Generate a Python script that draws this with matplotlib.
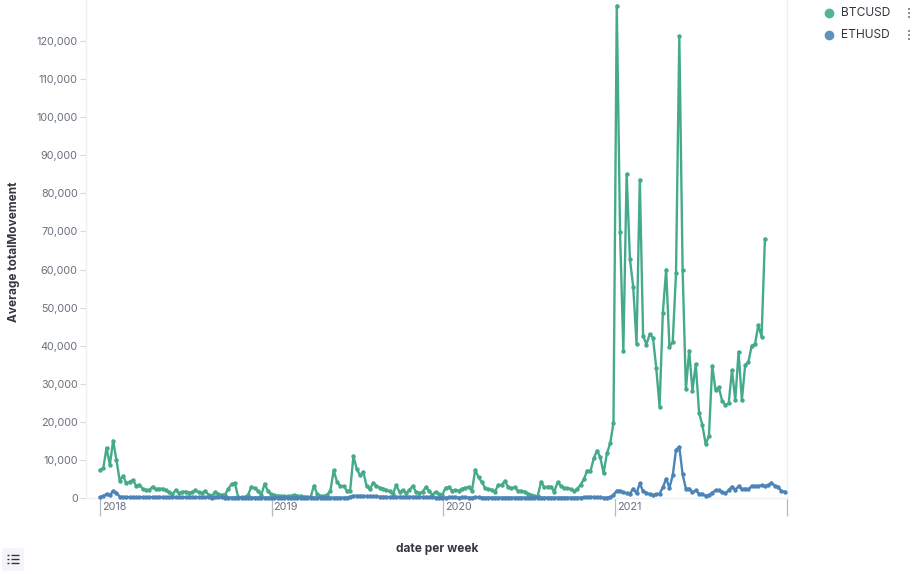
#!/usr/bin/env python

import matplotlib
matplotlib.use('Agg')
import matplotlib.pyplot as plt
import matplotlib.dates as mdates
from matplotlib.patches import FancyBboxPatch
from matplotlib.transforms import ScaledTranslation
import pandas as pd

START = '2018-01-01'

btc = [7350, 7800, 13200, 8660, 15050, 10000, 4550, 5800, 3850, 4300,
       4700, 3200, 3400, 2450, 2100, 2100, 3000, 2300, 2450, 2450,
       2100, 1500, 960, 2100, 1200, 1600, 1700, 1400, 1500, 2000,
       1500, 1300, 1900, 800, 600, 1600, 960, 800, 900, 2400,
       3700, 3850, 200, 200, 200, 800, 3000, 2500, 1900, 800,
       3700, 1900, 960, 700, 600, 500, 500, 450, 450, 800,
       600, 500, 350, 300, 280, 3240, 1050, 500, 500, 850,
       1900, 7260, 4300, 3150, 3150, 1900, 1900, 11025, 7600, 6000,
       6900, 3150, 2275, 4000, 3200, 2700, 2450, 2100, 1750, 1050,
       3400, 1500, 2100, 1200, 2100, 3150, 1600, 1200, 1660, 2800,
       1840, 875, 1600, 960, 800, 2700, 2800, 1900, 2100, 1900,
       2450, 2700, 2900, 1840, 7440, 5400, 4200, 2600, 2360, 2190,
       1660, 3400, 3400, 4460, 2900, 2540, 2800, 1840, 1900, 1660,
       1140, 800, 525, 525, 4290, 2800, 2975, 2975, 1575, 4100,
       3240, 2700, 2540, 2360, 1840, 2450, 3500, 4900, 7175, 7000,
       10400, 12425, 10675, 6475, 11725, 14350, 19775, 129300, 69800, 38700,
       85100, 62700, 55440, 40500, 83600, 42600, 40300, 43050, 42100, 34100,
       24000, 48650, 60000, 39700, 41000, 59150, 121300, 60000, 28500, 38700,
       28200, 35200, 22400, 19160, 14175, 16275, 34740, 28350, 29050, 25550,
       24400, 24850, 33600, 25700, 38400, 25700, 34800, 35800, 40000, 40400,
       45400, 42350, 68000]

eth = [200, 500, 1050, 700, 1900, 1400, 350, 250, 250, 200,
       200, 200, 200, 200, 180, 180, 220, 250, 250, 250,
       230, 200, 180, 150, 150, 150, 200, 200, 180, 150,
       150, 180, 200, 150, 100, 150, 150, 150, 130, 130,
       130, 130, 130, 130, 130, 130, 130, 130, 120, 120,
       120, 120, 120, 120, 120, 110, 110, 110, 110, 110,
       110, 110, 110, 110, 110, 110, 110, 110, 110, 110,
       110, 110, 110, 110, 110, 110, 350, 600, 550, 550,
       550, 500, 450, 400, 400, 350, 350, 300, 200, 250,
       300, 300, 300, 280, 280, 300, 300, 300, 250, 250,
       200, 150, 130, 130, 130, 130, 150, 150, 150, 130,
       150, 150, 130, 100, 250, 200, 130, 120, 120, 100,
       100, 100, 100, 100, 100, 120, 120, 100, 100, 120,
       120, 120, 120, 120, 120, 120, 130, 130, 130, 120,
       120, 120, 130, 130, 130, 130, 120, 200, 250, 300,
       250, 200, 175, 100, 100, 175, 790, 1925, 1925, 1490,
       1225, 1140, 2450, 1225, 3850, 1750, 1400, 960, 790, 960,
       1140, 2800, 5075, 2700, 5950, 12600, 13475, 6200, 2450, 2450,
       1490, 2010, 1140, 1050, 610, 790, 1400, 2010, 2010, 1490,
       1225, 2100, 2975, 2190, 3060, 2275, 2450, 2275, 3150, 3150,
       3150, 3325, 3150, 3325, 4025, 3240, 2975, 1840, 1660]

year_ticks = ['2018-01-01', '2019-01-01', '2020-01-01', '2021-01-01', '2022-01-01']
year_labels = ['2018', '2019', '2020', '2021', '']
y_ticks = list(range(0, 130000, 10000))

BTC_COLOR = '#45aa8b'
ETH_COLOR = '#4c84b8'
TXT = '#69707d'
EDGE = '#eef0f3'

plt.rcParams['font.family'] = ['Inter', 'DejaVu Sans']

W, H = 917, 574
fig = plt.figure(figsize=(W / 100, H / 100), dpi=100)
ax = fig.add_axes([86 / W, (H - 498) / H, 701 / W, 498 / H])

btc_dates = pd.date_range(START, periods=len(btc), freq='7D')
eth_dates = pd.date_range(START, periods=len(eth), freq='7D')

for dates, vals, col in [(btc_dates, btc, BTC_COLOR), (eth_dates, eth, ETH_COLOR)]:
    ax.plot(dates, vals, color=col, lw=1.7, marker='o', ms=3.2, mew=0, clip_on=False,
            solid_joinstyle='round', zorder=3)

ax.set_xlim(pd.Timestamp(START) - pd.Timedelta(days=29.7), pd.Timestamp('2022-01-01'))
ax.set_ylim(0, 498 / 3.808 * 1000)

ax.set_yticks(y_ticks)
ax.set_yticklabels([f'{v:,}' for v in y_ticks])
ax.tick_params(axis='y', length=4, width=0.8, color='#d3dae6', labelcolor=TXT, labelsize=7.8, pad=2)

ax.set_xticks([mdates.date2num(pd.Timestamp(d)) for d in year_ticks])
ax.set_xticklabels(year_labels)
ax.tick_params(axis='x', length=13, width=0.9, color='#b5bac2', labelcolor=TXT, labelsize=7.8, pad=-10)
shift = ScaledTranslation(2 / 100, 0, fig.dpi_scale_trans)
for lab in ax.get_xticklabels():
    lab.set_ha('left')
    lab.set_transform(lab.get_transform() + shift)

for side in ['left', 'right', 'bottom']:
    ax.spines[side].set_color(EDGE)
    ax.spines[side].set_linewidth(1.0)
ax.spines['top'].set_visible(False)

fig.text(437 / W, 1 - 549 / H, 'date per week', ha='center', va='center', fontsize=8.6, fontweight='bold', color='#343741')
fig.text(14 / W, 1 - 252 / H, 'Average totalMovement', ha='center', va='center', rotation=90, fontsize=8.5, fontweight='bold', color='#343741')

# legend on the right, placed by hand like the kibana one
for name, col, py in [('BTCUSD', '#54b399', 13), ('ETHUSD', '#6092c0', 35)]:
    fig.add_artist(plt.Line2D([829 / W], [1 - py / H], marker='o', ms=7, mew=0, color=col, transform=fig.transFigure))
    fig.text(841 / W, 1 - py / H, name, ha='left', va='center', fontsize=8.6, color='#343741')
    for dy in (-4, 0, 4):
        fig.add_artist(plt.Line2D([908.5 / W], [1 - (py + dy) / H], marker='s', ms=1.7, mew=0, color='#8a8f98', transform=fig.transFigure))

# legend toggle button, bottom left
btn = FancyBboxPatch((2 / W, 1 - 571 / H), 22 / W, 23 / H, boxstyle='round,pad=0,rounding_size=0.004',
                     transform=fig.transFigure, fc='#f3f5f9', ec='none', mutation_aspect=W / H)
fig.add_artist(btn)
for py in (554.5, 558.5, 562.5):
    fig.add_artist(plt.Line2D([7 / W, 9 / W], [1 - py / H] * 2, color='#343741', lw=1, solid_capstyle='butt', transform=fig.transFigure))
    fig.add_artist(plt.Line2D([11 / W, 19 / W], [1 - py / H] * 2, color='#343741', lw=1, solid_capstyle='butt', transform=fig.transFigure))

fig.savefig('out.png', dpi=100)
